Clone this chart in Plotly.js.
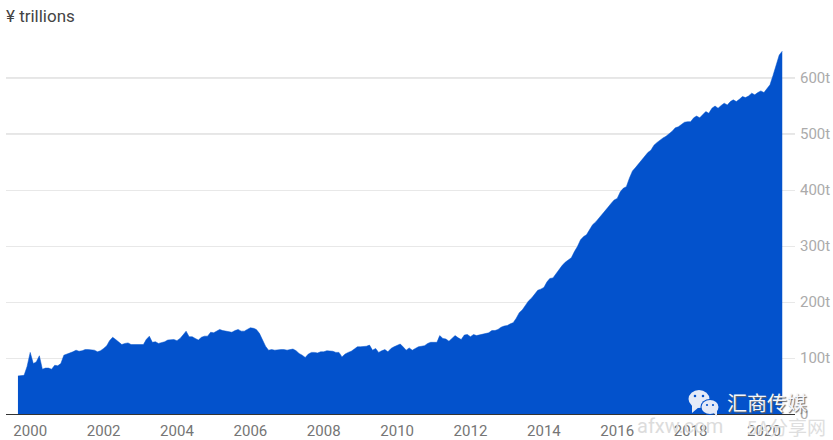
<!DOCTYPE html>
<html>
<head>
<meta charset="utf-8">
<script src="https://cdn.plot.ly/plotly-3.0.1.min.js"></script>
<style>html,body{margin:0;padding:0;background:#fff;overflow:hidden}#chart{width:833px;height:440px}</style>
</head>
<body>
<div id="chart"></div>
<script>
const startYear = 1999, startMonth = 9;
const values = [
68,68,69,85,110,90,93,104,80,82,82,80,87,86,90,105,107,108,111,114,
112,113,115,115,114,114,111,113,117,122,131,137,133,129,124,126,127,124,124,124,
124,124,133,139,128,129,126,127,129,132,132,133,131,135,141,148,138,138,135,132,
137,139,139,146,145,148,151,149,148,147,146,149,151,148,148,151,154,153,151,144,
132,121,114,115,114,115,115,115,114,115,116,113,108,105,101,107,110,110,109,111,
111,113,113,112,110,110,102,107,110,112,116,120,120,120,121,123,114,117,110,113,
115,111,117,120,122,125,120,114,118,114,117,120,121,122,126,128,128,128,140,
135,134,130,135,140,136,133,141,142,138,142,140,141,142,143,145,149,149,151,155,
157,158,161,163,171,181,186,194,202,207,214,221,223,226,236,242,243,251,257,265,
271,275,279,290,299,311,317,320,329,338,343,349,357,363,369,376,382,385,397,403,
406,421,434,440,447,454,460,467,471,480,485,489,493,496,500,505,511,513,517,
521,522,522,529,532,529,535,540,537,546,550,546,551,555,552,558,561,558,562,567,
565,568,573,570,574,577,574,582,588,605,623,641,648
];
const dates = values.map((_, i) => {
  const t = startYear * 12 + (startMonth - 1) + i;
  const y = Math.floor(t / 12), m = t % 12 + 1;
  return y + '-' + String(m).padStart(2, '0') + '-01';
});
const yTickValues = [0, 100, 200, 300, 400, 500, 600];
const yTickLabels = ['0', '100t', '200t', '300t', '400t', '500t', '600t'];
const heavierGrid = [500, 600];
const unitTitle = '¥ trillions';
const brand = '汇商传媒';
const faintLeft = 'afxw.com';
const faintRight = '5A分享网';

const L = 6, R = 38, T = 40, B = 26, W = 833, H = 440;
const px = v => (v - L) / (W - L - R);
const py = v => (H - B - v) / (H - T - B);
function bubble(cx, cy, rx, ry, color) {
  return {type: 'circle', xref: 'paper', yref: 'paper', layer: 'above', line: {width: 0}, fillcolor: color,
    x0: px(cx - rx), x1: px(cx + rx), y0: py(cy + ry), y1: py(cy - ry)};
}
function tail(x1, y1, x2, y2, x3, y3, color) {
  return {type: 'path', xref: 'paper', yref: 'paper', layer: 'above', line: {width: 0}, fillcolor: color,
    path: 'M' + px(x1) + ',' + py(y1) + 'L' + px(x2) + ',' + py(y2) + 'L' + px(x3) + ',' + py(y3) + 'Z'};
}
const bubbleColor = '#e4eaf8', eyeColor = '#0352cc';
const layout = {
  width: W, height: H,
  margin: {l: L, r: R, t: T, b: B, pad: 0},
  paper_bgcolor: '#fff', plot_bgcolor: '#fff',
  showlegend: false,
  font: {family: 'Roboto, sans-serif'},
  xaxis: {
    type: 'date', range: ['1999-05-05', '2020-11-05'],
    tick0: '2000-01-01', dtick: 'M24', tickformat: '%Y', ticks: '', ticklabelstandoff: 3,
    showgrid: false, zeroline: false, showline: true, linecolor: '#333', linewidth: 1,
    tickfont: {family: 'Roboto, sans-serif', size: 15, color: '#757575'}
  },
  yaxis: {
    side: 'right', range: [0, 667.9], tickmode: 'array',
    tickvals: yTickValues, ticktext: yTickLabels, ticks: '', ticklabelstandoff: 4,
    showgrid: true, gridcolor: '#e8e8e8', gridwidth: 1, zeroline: false, showline: false,
    tickfont: {family: 'Roboto, sans-serif', size: 15, color: '#ababab'}
  },
  annotations: [
    {text: unitTitle, xref: 'paper', yref: 'paper', x: 0, y: py(16), xshift: -2, xanchor: 'left', yanchor: 'middle', showarrow: false,
      font: {family: 'Roboto, sans-serif', size: 17, color: '#444'}},
    {text: brand, xref: 'paper', yref: 'paper', x: px(767), y: py(402), xanchor: 'center', yanchor: 'middle', showarrow: false,
      font: {family: '"Noto Sans CJK SC", sans-serif', size: 20, color: '#f4f6fb', shadow: '1px 1px 1px #666'}},
    {text: faintLeft, xref: 'paper', yref: 'paper', x: px(680), y: py(426), xanchor: 'center', yanchor: 'middle', showarrow: false,
      font: {family: 'Roboto, sans-serif', size: 20, color: '#dcdcdc'}},
    {text: faintRight, xref: 'paper', yref: 'paper', x: px(786), y: py(427), xanchor: 'center', yanchor: 'middle', showarrow: false,
      font: {family: '"Noto Sans CJK SC", sans-serif', size: 19, color: '#dedede'}}
  ],
  shapes: [
    ...heavierGrid.map(v => ({type: 'line', xref: 'paper', yref: 'y', x0: 0, x1: 1, y0: v, y1: v, layer: 'below',
      line: {color: '#e6e6e6', width: 2}})),
    bubble(699, 399, 10.5, 9, bubbleColor),
    tail(692, 405, 692, 413, 699, 407, bubbleColor),
    bubble(710, 407, 9.5, 8, eyeColor),
    bubble(710, 407, 8.5, 7, bubbleColor),
    tail(713, 412, 717, 417, 717, 410, bubbleColor),
    bubble(695, 396, 1.3, 1.3, eyeColor),
    bubble(703, 396, 1.3, 1.3, eyeColor),
    bubble(707, 405, 1.1, 1.1, eyeColor),
    bubble(713, 405, 1.1, 1.1, eyeColor)
  ]
};
const trace = {
  type: 'scatter', mode: 'lines', x: dates, y: values,
  fill: 'tozeroy', fillcolor: '#0352cc', line: {color: '#0352cc', width: 0.5, shape: 'linear'},
  hoverinfo: 'x+y'
};
Plotly.newPlot('chart', [trace], layout, {displayModeBar: false, staticPlot: true});
</script>
</body>
</html>
